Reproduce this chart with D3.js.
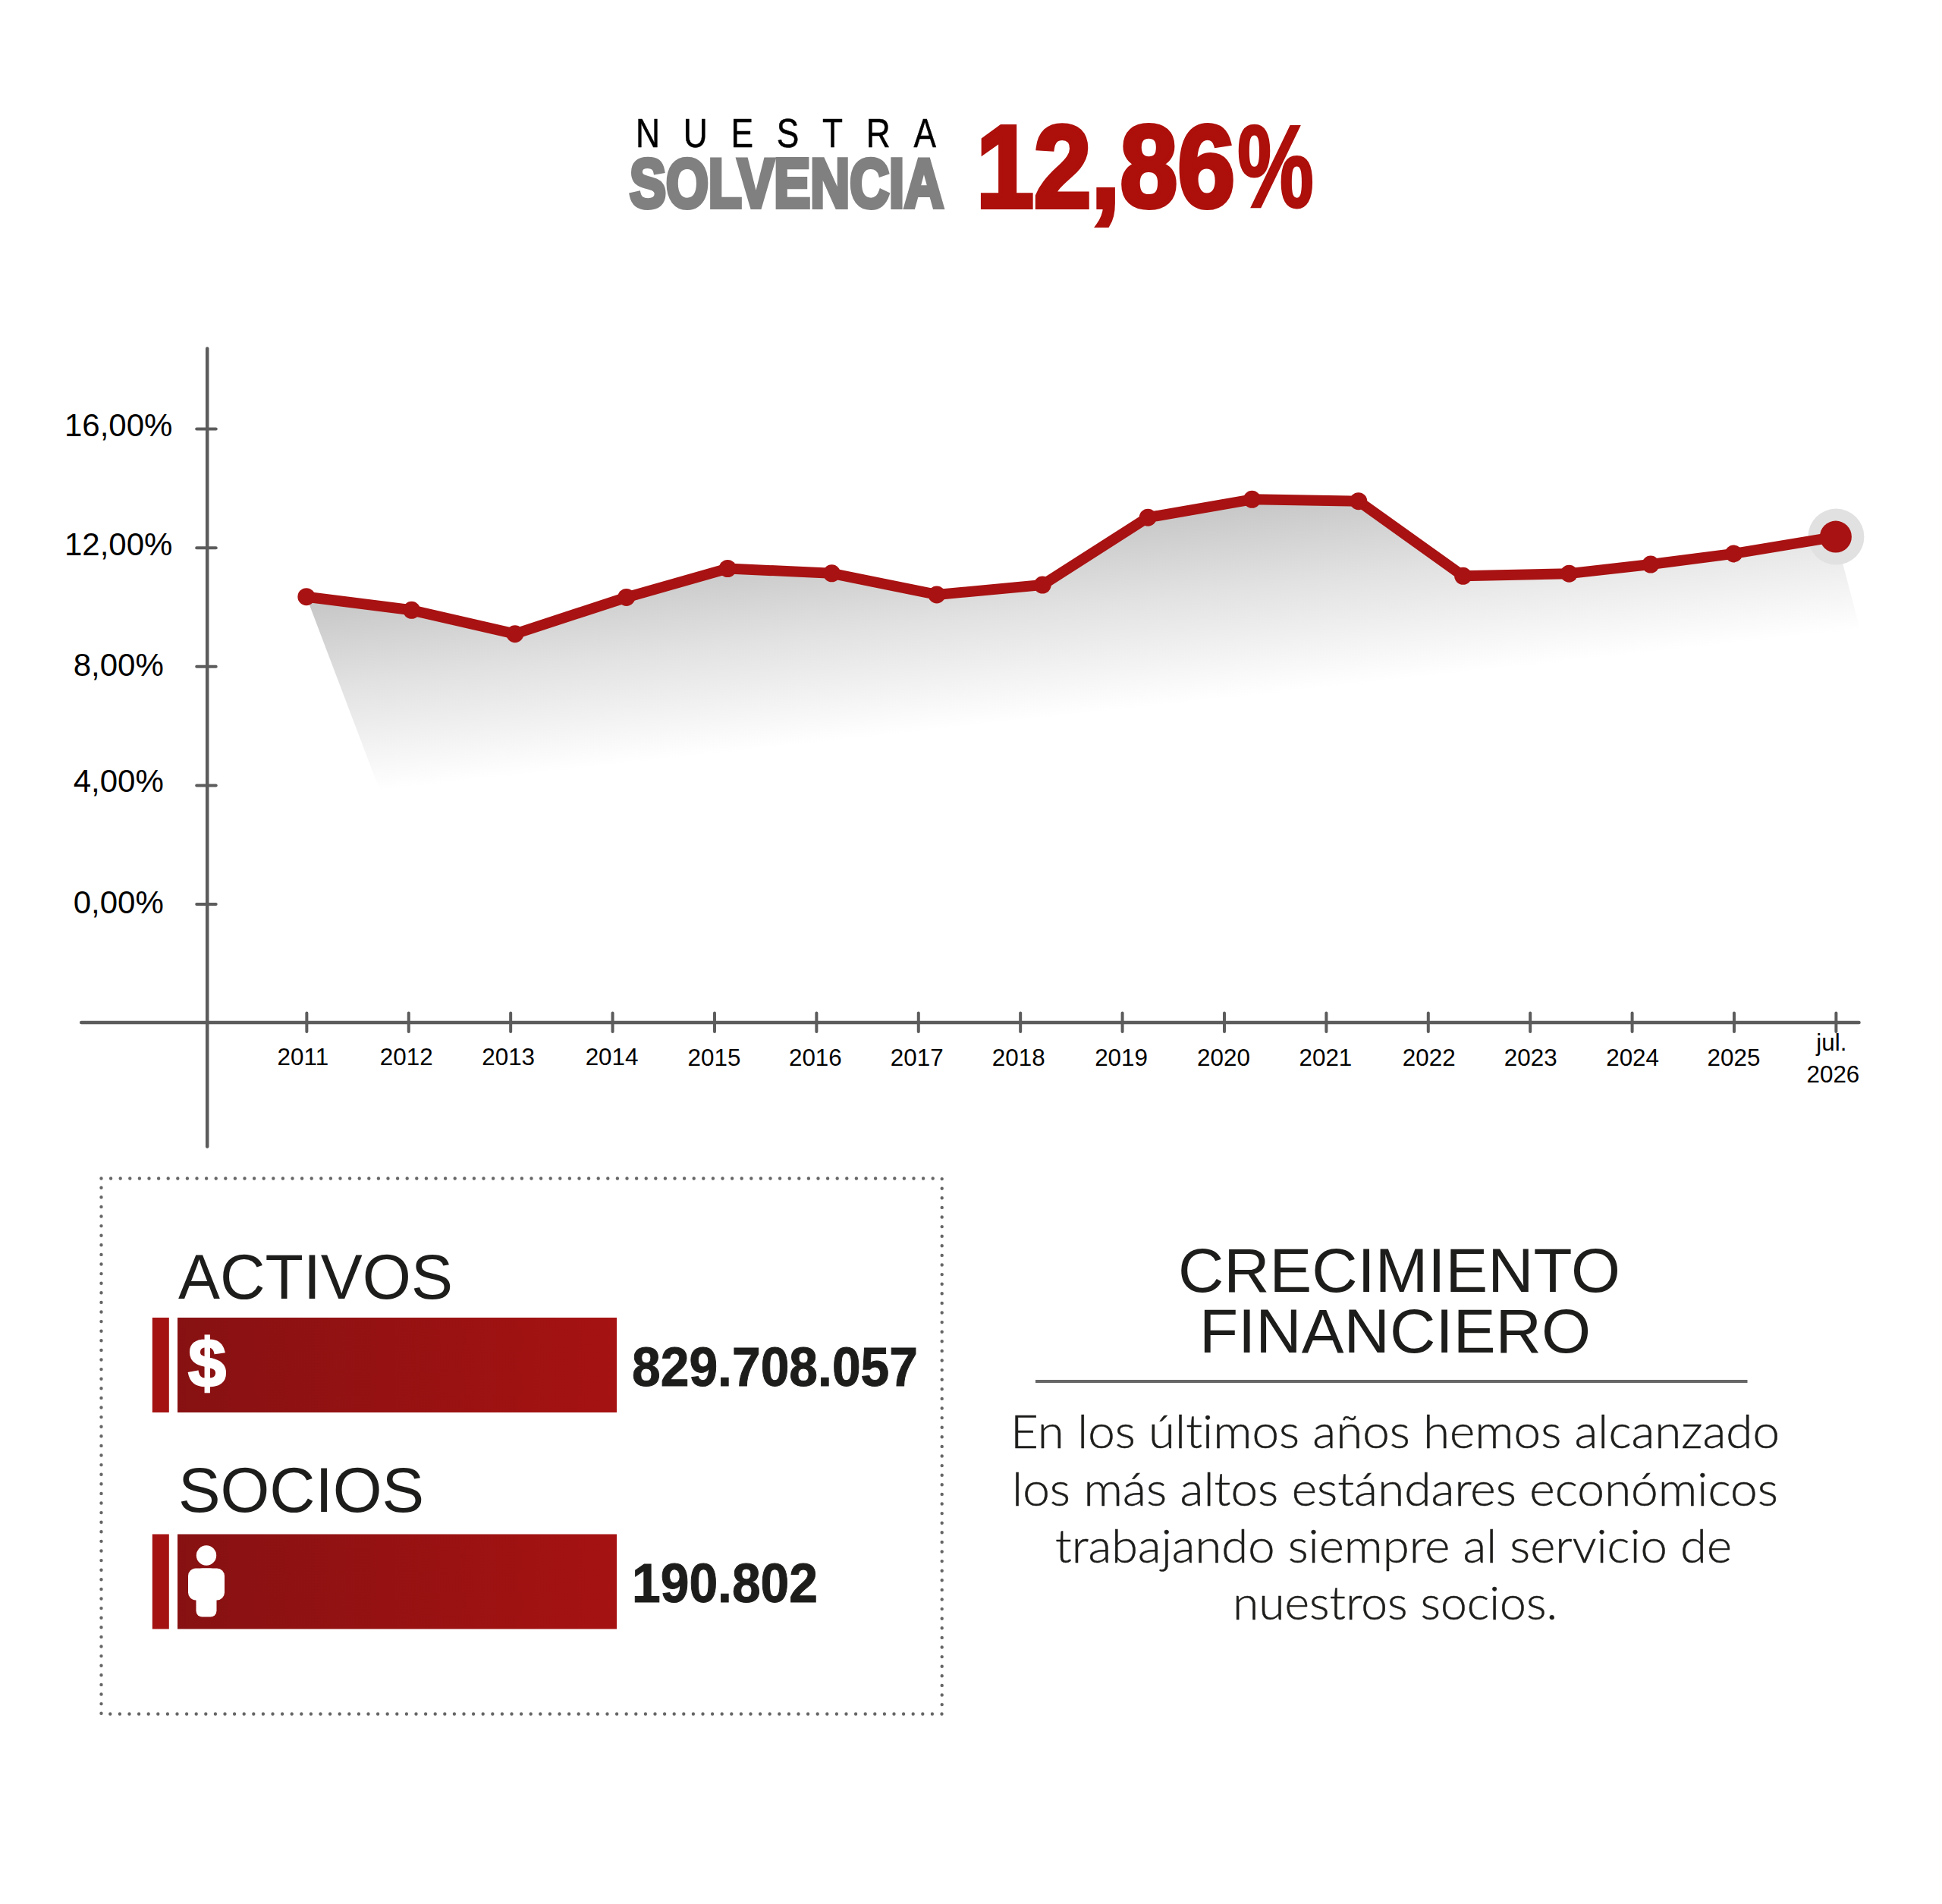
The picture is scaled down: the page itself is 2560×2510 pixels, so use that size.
<!DOCTYPE html>
<html lang="es">
<head>
<meta charset="utf-8">
<title>Nuestra solvencia</title>
<script src="https://cdn.jsdelivr.net/npm/d3@7/dist/d3.min.js"></script>
<style>
html,body{margin:0;padding:0;background:#fff}
svg{display:block}
</style>
</head>
<body>
<svg id="chart" width="2560" height="2510" viewBox="0 0 2560 2510" font-family='"Liberation Sans",Arial,sans-serif'></svg>
<script>
// ---- data ----
const pointYears = [2011, 2012.032, 2013.046, 2014.139, 2015.132, 2016.153, 2017.183, 2018.22, 2019.254, 2020.275, 2021.319, 2022.345, 2023.385, 2024.185, 2025, 2026];
const solvency   = [10.34, 9.89, 9.09, 10.32, 11.29, 11.13, 10.41, 10.74, 13.01, 13.62, 13.56, 11.04, 11.12, 11.43, 11.79, 12.36];
const fadeYears  = [2026.24, 2011.72];
const fadeValues = [9.23, 3.82];
const tickYears  = [2011,2012,2013,2014,2015,2016,2017,2018,2019,2020,2021,2022,2023,2024,2025,2026];
const yTicks     = [0, 4, 8, 12, 16];
const statNames  = ["ACTIVOS", "SOCIOS"];
const statValues = ["829.708.057", "190.802"];
const titleTop = "NUESTRA", titleBottom = "SOLVENCIA", titleNumber = "12,86", titlePercent = "%";
const sideTitle = ["CRECIMIENTO", "FINANCIERO"];
const sideText = ["En los últimos años hemos alcanzado","los más altos estándares económicos","trabajando siempre al servicio de","nuestros socios."];

// ---- layout / style ----
const RED="#a81212", TITLE_RED="#ad0f0a", AXIS="#5c5c5c", INK="#1d1d1b";
const svg = d3.select("#chart");
const x = d3.scaleLinear().domain([2008.789, 2026.224]).range([106.7, 2450]);
const y = d3.scaleLinear().domain([-8.16, 18.71]).range([1511, 459]);
const defs = svg.append("defs");

function fit(sel, x0, x1, base, size, opt={}){
  sel.append("text").attr("x",x0).attr("y",base)
    .attr("font-size",size)
    .attr("textLength",x1-x0).attr("lengthAdjust","spacingAndGlyphs")
    .attr("font-family",opt.family||null)
    .attr("font-weight",opt.weight||null)
    .attr("fill",opt.fill||INK)
    .attr("stroke",opt.stroke?opt.fill:null)
    .attr("stroke-width",opt.stroke||null)
    .attr("stroke-linejoin","miter")
    .style("font-variant-ligatures","none")
    .text(opt.text);
}

// ---- header ----
const head = svg.append("g").attr("class","header");
head.append("text").attr("transform","translate(838,194) scale(0.82,1)")
  .attr("font-size",54).attr("letter-spacing",37.5).attr("fill","#000")
  .attr("stroke","#000").attr("stroke-width",0.5).text(titleTop);
fit(head,830,1244,272.8,90,{weight:700,fill:"#808080",stroke:6,text:titleBottom});
fit(head,1287,1628,273,154,{weight:700,fill:TITLE_RED,stroke:6,text:titleNumber});
fit(head,1631,1732,273,154,{weight:700,fill:TITLE_RED,stroke:3,text:titlePercent});

// ---- area fade ----
const pts = pointYears.map((d,i)=>({year:d,value:solvency[i]}));
const base = fadeYears.map((d,i)=>({year:d,value:fadeValues[i]}));
const peak = pts[d3.greatestIndex(pts,p=>p.value)];
const bx0=x(base[1].year), by0=y(base[1].value), bx1=x(base[0].year), by1=y(base[0].value);
const slope=(by1-by0)/(bx1-bx0);
const px=x(peak.year), py=y(peak.value);
const t=(by0+slope*(px-bx0)-py)/(1+slope*slope);
const grad=defs.append("linearGradient").attr("id","fade").attr("gradientUnits","userSpaceOnUse")
  .attr("x1",px).attr("y1",py).attr("x2",px-slope*t).attr("y2",py+t);
grad.append("stop").attr("offset",0).attr("stop-color","#c6c6c6");
grad.append("stop").attr("offset",0.45).attr("stop-color","#e2e2e2");
grad.append("stop").attr("offset",1).attr("stop-color","#ffffff");
const lineGen=d3.line().x(d=>x(d.year)).y(d=>y(d.value));
svg.append("path").attr("class","fade").attr("d",lineGen(pts.concat(base))+"Z").attr("fill","url(#fade)");

// ---- axes ----
function styleAxis(g){
  g.selectAll(".domain").attr("stroke",AXIS).attr("stroke-width",4.5).attr("stroke-linecap","round");
  g.selectAll(".tick line").attr("stroke",AXIS).attr("stroke-width",4).attr("stroke-linecap","round");
  g.selectAll(".tick text").attr("fill","#000");
}
const yAxis=d3.axisLeft(y).tickValues(yTicks).tickSizeOuter(0).tickSizeInner(12)
  .tickFormat(d=>d3.format(".2f")(d).replace(".",",")+"%");
const gy=svg.append("g").attr("class","axis-y").attr("transform",`translate(272.7,0)`).call(yAxis);
styleAxis(gy);
gy.selectAll(".tick line").attr("x1",-13.5).attr("x2",12);
const yNudge={16:9,12:9.5,8:12.2,4:9,0:12.2};
gy.selectAll(".tick text").attr("font-size",42).attr("font-family",'"Liberation Sans",Arial,sans-serif')
  .attr("text-anchor","middle").attr("x",156.2-272.7).attr("dy",null).attr("y",d=>yNudge[d]);

const xAxis=d3.axisBottom(x).tickValues(tickYears).tickSizeOuter(0).tickSizeInner(12).tickFormat(d=>d);
const gx=svg.append("g").attr("class","axis-x").attr("transform",`translate(0,${y(-4)-0.6})`).call(xAxis);
styleAxis(gx);
gx.selectAll(".tick line").attr("y1",-12).attr("y2",12.5);
const labelNudge={2011:-5,2012:-3,2013:-3,2014:-1,2015:-0.5,2016:-1.5,2017:-2,2018:-2.5,2019:-1.5,2020:-1,2021:-1,2022:1,2023:0.5,2024:0.5,2025:-0.5};
gx.selectAll(".tick text").attr("font-size",31.4).attr("font-family",'"Liberation Sans",Arial,sans-serif')
  .attr("dy",null).attr("y",d=>d<2015?56:57).attr("x",d=>labelNudge[d]||0)
  .each(function(d){
    if(d===2026){
      const s=d3.select(this).text(null);
      s.append("tspan").attr("x",-6).attr("y",37).text("jul.");
      s.append("tspan").attr("x",-4).attr("y",79).text("2026");
    }
  });

// ---- line and markers ----
const last=pts[pts.length-1];
svg.append("circle").attr("class","halo").attr("cx",x(last.year)+0.5).attr("cy",y(last.value)).attr("r",37).attr("fill","#e1e1e1");
svg.append("path").attr("class","line").attr("d",lineGen(pts))
  .attr("fill","none").attr("stroke",RED).attr("stroke-width",14).attr("stroke-linejoin","round");
svg.append("g").attr("class","points").selectAll("circle").data(pts).join("circle")
  .attr("cx",d=>x(d.year)).attr("cy",d=>y(d.value))
  .attr("r",(d,i)=>i===pts.length-1?21:11.5).attr("fill",RED);

// ---- panel ----
const panel=svg.append("g").attr("class","panel");
panel.append("rect").attr("x",133.5).attr("y",1553.5).attr("width",1108.2).attr("height",706)
  .attr("fill","none").attr("stroke","#666").attr("stroke-width",4.4)
  .attr("stroke-linecap","round").attr("stroke-dasharray","0 12.6");
const barGrad=defs.append("linearGradient").attr("id","bar").attr("x1",0).attr("x2",1).attr("y1",0).attr("y2",0);
barGrad.append("stop").attr("offset",0).attr("stop-color","#871112");
barGrad.append("stop").attr("offset",1).attr("stop-color","#a61212");
const rowY=d3.scalePoint().domain(statNames).range([1737,2022.5]);
const nameSpan={ACTIVOS:[235,597],SOCIOS:[235,559]};
const nameBase={ACTIVOS:1711.5,SOCIOS:1993};
const valueEnd={ACTIVOS:1210,SOCIOS:1078};
statNames.forEach((n,i)=>{
  const top=rowY(n);
  fit(panel,nameSpan[n][0],nameSpan[n][1],nameBase[n],83,{fill:INK,text:n});
  panel.append("rect").attr("x",200.8).attr("y",top).attr("width",22).attr("height",125).attr("fill","#a51212");
  panel.append("rect").attr("x",234).attr("y",top).attr("width",579).attr("height",125).attr("fill","url(#bar)");
  fit(panel,833,valueEnd[n],top+89.5,72,{weight:700,fill:INK,stroke:1,text:statValues[i]});
});
// icons
const t0=rowY("ACTIVOS"), t1=rowY("SOCIOS");
panel.append("text").attr("x",273).attr("y",t0+91).attr("text-anchor","middle")
  .attr("font-size",90).attr("font-weight",700).attr("fill","#fff").attr("stroke","#fff").attr("stroke-width",2.5).text("$");
const person=panel.append("g").attr("fill","#fff").attr("transform",`translate(272,${t1})`);
person.append("circle").attr("cx",0).attr("cy",28).attr("r",13.2);
person.append("rect").attr("x",-24).attr("y",45).attr("width",48).attr("height",42).attr("rx",10);
person.append("rect").attr("x",-13.5).attr("y",45).attr("width",27).attr("height",64).attr("rx",8);

// ---- side text ----
const side=svg.append("g").attr("class","side");
fit(side,1553,2136,1703,82,{text:sideTitle[0]});
fit(side,1581,2097,1783,82,{text:sideTitle[1]});
side.append("line").attr("x1",1365).attr("x2",2303.5).attr("y1",1821).attr("y2",1821)
  .attr("stroke","#666").attr("stroke-width",4);
const paraSpan=[[1332,2346,1909],[1334,2344,1985],[1391,2283,2060],[1625,2053,2135]];
sideText.forEach((s,i)=>fit(side,paraSpan[i][0],paraSpan[i][1],paraSpan[i][2],61,{family:'Lato,"Open Sans",sans-serif',weight:300,fill:INK,stroke:0.5,text:s}));
</script>
</body>
</html>
